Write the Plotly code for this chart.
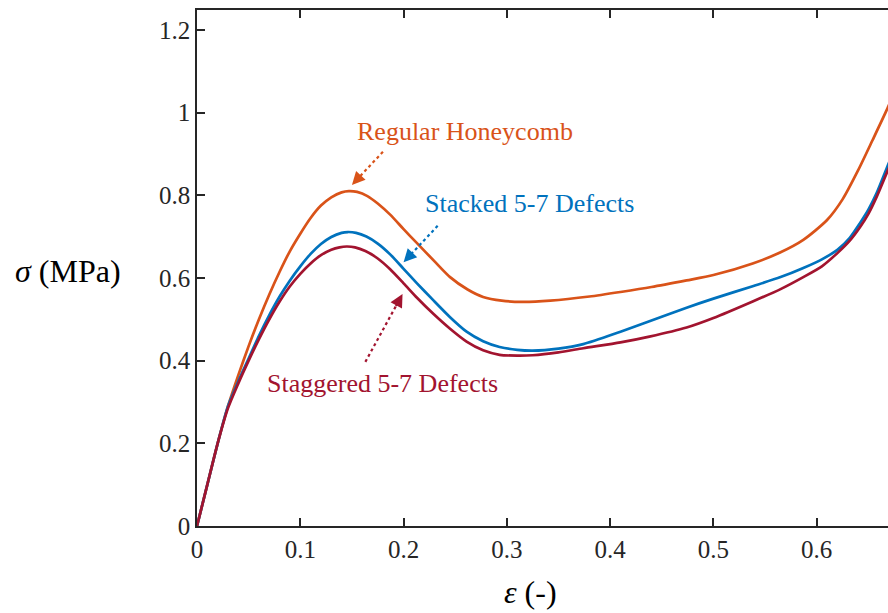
import plotly.graph_objects as go

# ---- data ----
strain_regular = [0, 0.01, 0.02, 0.03, 0.04, 0.05, 0.06, 0.07, 0.08, 0.09, 0.1, 0.11, 0.12, 0.13,
                  0.14, 0.147, 0.155, 0.165, 0.175, 0.187, 0.2, 0.213, 0.23, 0.245, 0.262, 0.277,
                  0.295, 0.315, 0.342, 0.38, 0.41, 0.44, 0.474, 0.5, 0.538, 0.565, 0.587, 0.61,
                  0.625, 0.64, 0.654, 0.669, 0.675]
stress_regular = [0, 0.1, 0.2, 0.29, 0.365, 0.435, 0.5, 0.56, 0.615, 0.665, 0.707, 0.745, 0.775,
                  0.795, 0.807, 0.81, 0.808, 0.798, 0.78, 0.753, 0.718, 0.684, 0.64, 0.602, 0.572,
                  0.554, 0.545, 0.542, 0.545, 0.555, 0.566, 0.578, 0.594, 0.607, 0.635, 0.662,
                  0.692, 0.74, 0.79, 0.86, 0.933, 1.013, 1.05]

strain_stacked = [0, 0.01, 0.02, 0.03, 0.04, 0.05, 0.06, 0.07, 0.08, 0.09, 0.1, 0.11, 0.12, 0.13,
                  0.14, 0.146, 0.154, 0.164, 0.175, 0.187, 0.2, 0.213, 0.228, 0.245, 0.261, 0.277,
                  0.293, 0.31, 0.325, 0.35, 0.374, 0.41, 0.438, 0.474, 0.5, 0.538, 0.565, 0.587,
                  0.605, 0.62, 0.632, 0.642, 0.65, 0.658, 0.669, 0.675]
stress_stacked = [0, 0.1, 0.2, 0.29, 0.35, 0.405, 0.46, 0.51, 0.555, 0.594, 0.628, 0.658, 0.682,
                  0.699, 0.709, 0.711, 0.709, 0.7, 0.683, 0.657, 0.622, 0.587, 0.548, 0.505, 0.47,
                  0.447, 0.433, 0.426, 0.424, 0.429, 0.44, 0.47, 0.495, 0.528, 0.55, 0.58, 0.602,
                  0.624, 0.645, 0.668, 0.697, 0.733, 0.765, 0.805, 0.873, 0.91]

strain_staggered = [0, 0.01, 0.02, 0.03, 0.04, 0.05, 0.06, 0.07, 0.08, 0.09, 0.1, 0.11, 0.12,
                    0.13, 0.138, 0.145, 0.153, 0.163, 0.175, 0.187, 0.2, 0.213, 0.228, 0.245,
                    0.261, 0.277, 0.293, 0.31, 0.325, 0.35, 0.374, 0.41, 0.438, 0.474, 0.5, 0.538,
                    0.565, 0.587, 0.605, 0.62, 0.632, 0.642, 0.65, 0.658, 0.669, 0.675]
stress_staggered = [0, 0.1, 0.2, 0.285, 0.345, 0.4, 0.452, 0.5, 0.543, 0.58, 0.61, 0.635, 0.655,
                    0.668, 0.674, 0.676, 0.674, 0.665, 0.647, 0.621, 0.587, 0.552, 0.515, 0.477,
                    0.446, 0.425, 0.414, 0.412, 0.413, 0.42, 0.43, 0.444, 0.458, 0.48, 0.503, 0.543,
                    0.573, 0.602, 0.628, 0.66, 0.69, 0.723, 0.755, 0.796, 0.861, 0.895]

series_names = ["Regular Honeycomb", "Stacked 5-7 Defects", "Staggered 5-7 Defects"]
series_colors = ["#D95319", "#0072BD", "#A2142F"]

x_ticks = [0, 0.1, 0.2, 0.3, 0.4, 0.5, 0.6]
y_ticks = [0, 0.2, 0.4, 0.6, 0.8, 1.0, 1.2]

# label positions (text centre) and arrow tail/head in data units
label_pos = [(0.259, 0.955), (0.322, 0.781), (0.18, 0.345)]
arrow_tail = [(0.180, 0.905), (0.233, 0.726), (0.163, 0.397)]
arrow_head = [(0.150, 0.825), (0.200, 0.638), (0.199, 0.561)]

FONT = "Liberation Serif, Times New Roman, serif"

fig = go.Figure()
for xs, ys, name, col in zip([strain_regular, strain_stacked, strain_staggered],
                             [stress_regular, stress_stacked, stress_staggered],
                             series_names, series_colors):
    fig.add_trace(go.Scatter(x=xs, y=ys, mode="lines", name=name,
                             line=dict(color=col, width=2.7, shape="spline", smoothing=0.7)))

# dotted arrow shafts
for (tx, ty), (hx, hy), col in zip(arrow_tail, arrow_head, series_colors):
    fig.add_trace(go.Scatter(x=[tx, hx + (tx - hx) * 0.15], y=[ty, hy + (ty - hy) * 0.15],
                             mode="lines", line=dict(color=col, width=2.2, dash="dot"),
                             showlegend=False, hoverinfo="skip"))

annotations = []
for (lx, ly), (tx, ty), (hx, hy), name, col in zip(label_pos, arrow_tail, arrow_head,
                                                   series_names, series_colors):
    annotations.append(dict(x=lx, y=ly, xref="x", yref="y", text=name, showarrow=False,
                            font=dict(family=FONT, size=26, color=col)))
    # arrow head only
    annotations.append(dict(x=hx, y=hy, xref="x", yref="y",
                            ax=hx + (tx - hx) * 0.2, ay=hy + (ty - hy) * 0.2,
                            axref="x", ayref="y", text="", showarrow=True,
                            arrowhead=2, arrowsize=1.3, arrowwidth=2, arrowcolor=col))

annotations.append(dict(xref="paper", yref="paper", x=-0.187, y=0.495, xanchor="center",
                        yanchor="middle", text="<i>σ</i> (MPa)", showarrow=False,
                        font=dict(family=FONT, size=32, color="#000000")))
annotations.append(dict(xref="paper", yref="paper", x=0.482, y=-0.128, xanchor="center",
                        yanchor="middle", text="<i>ε</i> (-)", showarrow=False,
                        font=dict(family=FONT, size=32, color="#000000")))

fig.update_layout(
    width=888, height=613,
    margin=dict(l=197, r=0, t=10, b=87),
    paper_bgcolor="white", plot_bgcolor="white",
    showlegend=False,
    font=dict(family=FONT, size=25, color="#262626"),
    annotations=annotations,
    xaxis=dict(range=[0, 0.669], tickvals=x_ticks, ticktext=[f"{v:g}" for v in x_ticks],
               ticks="inside", ticklen=8, tickwidth=1.5, tickcolor="#262626",
               showline=True, linecolor="#262626", linewidth=1.5, mirror="ticks",
               showgrid=False, zeroline=False),
    yaxis=dict(range=[0, 1.248], tickvals=y_ticks, ticktext=[f"{v:g}" for v in y_ticks],
               ticks="inside", ticklen=8, tickwidth=1.5, tickcolor="#262626",
               showline=True, linecolor="#262626", linewidth=1.5, mirror=False,
               showgrid=False, zeroline=False),
)

fig.write_html("out.html")
